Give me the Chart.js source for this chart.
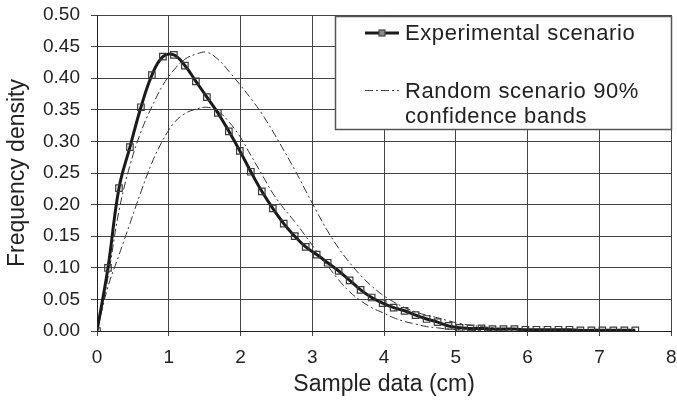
<!DOCTYPE html>
<html>
<head>
<meta charset="utf-8">
<script src="https://cdn.jsdelivr.net/npm/chart.js@4/dist/chart.umd.min.js"></script>
<style>
  html, body { margin: 0; padding: 0; background: #fff; }
  #wrap { width: 677px; height: 400px; position: relative; }
</style>
</head>
<body>
<div id="wrap"><canvas id="c" width="677" height="400"></canvas></div>
<script>
// Sample positions (cm)
const xValues = [0, 0.153, 0.306, 0.459, 0.612, 0.765, 0.918, 1.071, 1.224, 1.378,
  1.531, 1.684, 1.837, 1.990, 2.143, 2.296, 2.449, 2.602, 2.755, 2.908,
  3.061, 3.214, 3.367, 3.520, 3.673, 3.827, 3.980, 4.133, 4.286, 4.439,
  4.592, 4.745, 4.898, 5.051, 5.204, 5.357, 5.510, 5.663, 5.816, 5.969,
  6.122, 6.276, 6.429, 6.582, 6.735, 6.888, 7.041, 7.194, 7.347, 7.500];

// Experimental scenario frequency density
const experimental = [0, 0.100, 0.226, 0.291, 0.354, 0.405, 0.434, 0.437, 0.420, 0.395,
  0.370, 0.345, 0.316, 0.285, 0.252, 0.221, 0.194, 0.170, 0.150, 0.133,
  0.121, 0.108, 0.095, 0.080, 0.065, 0.053, 0.044, 0.037, 0.032, 0.025,
  0.019, 0.014, 0.008, 0.005, 0.004, 0.004, 0.003, 0.003, 0.003, 0.002,
  0.002, 0.002, 0.002, 0.002, 0.001, 0.001, 0.001, 0.001, 0.001, 0.001];

// Random scenario 90% confidence bands
const upperBand = [0, 0.085, 0.190, 0.262, 0.315, 0.355, 0.389, 0.413, 0.430, 0.438,
  0.441, 0.430, 0.411, 0.390, 0.368, 0.344, 0.316, 0.286, 0.255, 0.222,
  0.189, 0.158, 0.131, 0.108, 0.088, 0.071, 0.057, 0.046, 0.037, 0.030,
  0.025, 0.021, 0.016, 0.012, 0.009, 0.007, 0.005, 0.004, 0.003, 0.002,
  0.002, 0.001, 0.001, 0.001, 0.001, 0.001, 0, 0, 0, 0];
const lowerBand = [0, 0.070, 0.120, 0.170, 0.220, 0.266, 0.302, 0.329, 0.344, 0.351,
  0.354, 0.348, 0.331, 0.308, 0.278, 0.248, 0.218, 0.194, 0.173, 0.150,
  0.126, 0.103, 0.081, 0.062, 0.048, 0.037, 0.029, 0.021, 0.015, 0.011,
  0.007, 0.005, 0.003, 0.002, 0.001, 0.001, 0.001, 0, 0, 0,
  0, 0, 0, 0, 0, 0, 0, 0, 0, 0];

const xTicks = [0, 1, 2, 3, 4, 5, 6, 7, 8];
const legendLabels = ['Experimental scenario', ['Random scenario 90%', 'confidence bands']];

const pts = arr => arr.map((v, i) => ({ x: xValues[i], y: v }));

const gridColor = '#444';
const tickFont = { family: "'Liberation Sans Narrow', 'Arial Narrow', 'Liberation Sans', Arial, sans-serif", size: 19 };
const titleFont = { family: "'Liberation Sans', Arial, sans-serif", size: 23 };

const legendPlugin = {
  id: 'boxLegend',
  afterDatasetsDraw(chart) {
    const ctx = chart.ctx;
    ctx.save();
    const bx = 335.5, by = 16.5, bw = 336, bh = 113;
    ctx.fillStyle = '#fff';
    ctx.fillRect(bx, by, bw, bh);
    ctx.strokeStyle = '#555';
    ctx.lineWidth = 1.5;
    ctx.strokeRect(bx, by, bw, bh);
    // experimental sample
    ctx.strokeStyle = '#1a1a1a';
    ctx.lineWidth = 3;
    ctx.beginPath(); ctx.moveTo(365, 33); ctx.lineTo(399, 33); ctx.stroke();
    ctx.lineWidth = 1.2;
    ctx.strokeStyle = '#444';
    ctx.fillStyle = '#888';
    ctx.fillRect(379, 30, 6, 6);
    ctx.strokeRect(379, 30, 6, 6);
    // band sample
    ctx.strokeStyle = '#444';
    ctx.lineWidth = 1;
    ctx.setLineDash([8, 3, 2, 3]);
    ctx.beginPath(); ctx.moveTo(365, 90.5); ctx.lineTo(399, 90.5); ctx.stroke();
    ctx.setLineDash([]);
    ctx.fillStyle = '#222';
    ctx.font = "22px 'Liberation Sans', Arial, sans-serif";
    ctx.textBaseline = 'middle';
    ctx.textAlign = 'left';
    try { ctx.letterSpacing = '0.6px'; } catch (e) {}
    ctx.fillText(legendLabels[0], 405, 34);
    ctx.fillText(legendLabels[1][0], 405, 92);
    ctx.fillText(legendLabels[1][1], 405, 117);
    ctx.restore();
  }
};

new Chart(document.getElementById('c'), {
  type: 'line',
  data: {
    datasets: [
      {
        label: 'Upper band', data: pts(upperBand),
        borderColor: '#333', borderWidth: 1, borderDash: [8, 3, 2, 3],
        pointRadius: 0, tension: 0.4, fill: false, order: 2
      },
      {
        label: 'Lower band', data: pts(lowerBand),
        borderColor: '#333', borderWidth: 1, borderDash: [8, 3, 2, 3],
        pointRadius: 0, tension: 0.4, fill: false, order: 3
      },
      {
        label: legendLabels[0], data: pts(experimental),
        borderColor: '#1a1a1a', borderWidth: 3,
        pointStyle: 'rect', pointRadius: 4.6, pointBorderWidth: 1.2,
        pointBorderColor: '#3a3a3a', pointBackgroundColor: 'rgba(255,255,255,0)',
        tension: 0.4, fill: false, order: 1
      }
    ]
  },
  options: {
    responsive: false,
    animation: false,
    devicePixelRatio: 1,
    layout: { padding: { left: 0, right: 4, top: 15, bottom: 0 } },
    plugins: { legend: { display: false }, tooltip: { enabled: false } },
    scales: {
      x: {
        type: 'linear', min: 0, max: 8,
        afterBuildTicks(s) { s.ticks = xTicks.map(v => ({ value: v })); },
        afterFit(s) { s.height = 69; s.paddingLeft = 0; s.paddingRight = 0; },
        ticks: { color: '#222', font: tickFont, padding: 10, maxRotation: 0, autoSkip: false },
        grid: { color: gridColor, lineWidth: 1, tickLength: 5, drawTicks: true },
        border: { color: '#222', width: 1 },
        title: { display: true, text: 'Sample data (cm)', color: '#222', font: titleFont, padding: { top: 0, bottom: 2 } }
      },
      y: {
        min: 0, max: 0.5,
        ticks: { stepSize: 0.05, color: '#222', font: tickFont, padding: 11,
          callback: v => Number(v).toFixed(2) },
        afterFit(s) { s.width = 97; s.paddingTop = 0; s.paddingBottom = 0; },
        grid: { color: gridColor, lineWidth: 1, tickLength: 6, drawTicks: true },
        border: { color: '#222', width: 1 },
        title: { display: true, text: 'Frequency density', color: '#222', font: titleFont, padding: { top: 4, bottom: 0 } }
      }
    }
  },
  plugins: [legendPlugin]
});
</script>
</body>
</html>
